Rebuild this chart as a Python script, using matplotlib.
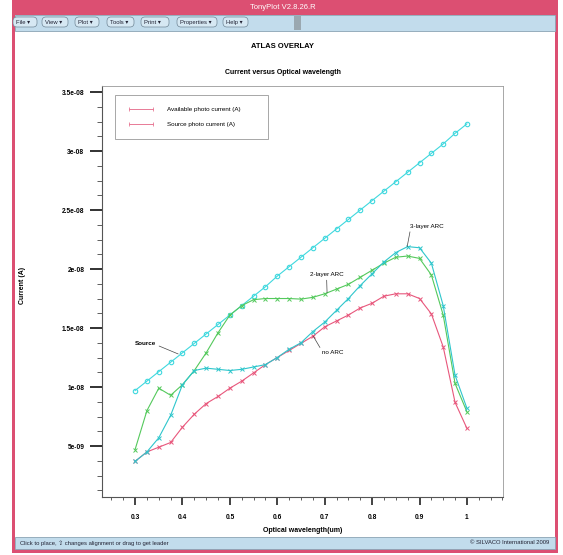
import matplotlib
matplotlib.use("Agg")
import matplotlib.pyplot as plt
from matplotlib.patches import Rectangle, FancyBboxPatch
from matplotlib.lines import Line2D
from matplotlib.ticker import FixedLocator, MultipleLocator

plt.rcParams['font.family'] = ['Liberation Sans Narrow', 'Liberation Sans', 'DejaVu Sans']

# wavelength grid (um) and currents (1e-8 A)
wavelength = [0.3, 0.325, 0.35, 0.375, 0.4, 0.425, 0.45, 0.475, 0.5, 0.525,
              0.55, 0.575, 0.6, 0.625, 0.65, 0.675, 0.7, 0.725, 0.75, 0.775,
              0.8, 0.825, 0.85, 0.875, 0.9, 0.925, 0.95, 0.975, 1.0]
source = [0.97, 1.05, 1.13, 1.21, 1.29, 1.37, 1.45, 1.53, 1.61, 1.69,
          1.77, 1.85, 1.94, 2.02, 2.10, 2.18, 2.26, 2.34, 2.42, 2.50,
          2.58, 2.66, 2.74, 2.82, 2.90, 2.98, 3.06, 3.15, 3.23]
no_arc = [0.37, 0.45, 0.49, 0.53, 0.66, 0.77, 0.86, 0.92, 0.99, 1.05,
          1.12, 1.19, 1.25, 1.31, 1.37, 1.43, 1.51, 1.56, 1.61, 1.67,
          1.71, 1.77, 1.79, 1.79, 1.75, 1.62, 1.34, 0.87, 0.65]
two_layer = [0.47, 0.80, 0.99, 0.93, 1.02, 1.14, 1.29, 1.46, 1.61, 1.69,
             1.74, 1.75, 1.75, 1.75, 1.745, 1.76, 1.79, 1.83, 1.87, 1.93,
             1.99, 2.05, 2.10, 2.11, 2.09, 1.95, 1.61, 1.03, 0.79]
three_layer = [0.37, 0.45, 0.57, 0.76, 1.02, 1.14, 1.16, 1.15, 1.14, 1.15,
               1.17, 1.19, 1.25, 1.32, 1.375, 1.47, 1.55, 1.65, 1.75, 1.86,
               1.96, 2.06, 2.14, 2.19, 2.18, 2.05, 1.69, 1.10, 0.82]
scale = 1e-8

ytick_vals = [0.5e-8, 1.0e-8, 1.5e-8, 2.0e-8, 2.5e-8, 3.0e-8, 3.5e-8]
ytick_labels = ['5e-09', '1e-08', '1.5e-08', '2e-08', '2.5e-08', '3e-08', '3.5e-08']
xtick_vals = [0.3, 0.4, 0.5, 0.6, 0.7, 0.8, 0.9, 1.0]
xtick_labels = ['0.3', '0.4', '0.5', '0.6', '0.7', '0.8', '0.9', '1']
menu_items = ['File', 'View', 'Plot', 'Tools', 'Print', 'Properties', 'Help']

W, H = 563, 555
fig = plt.figure(figsize=(W / 100, H / 100), dpi=100)
fig.patch.set_facecolor('white')

# window frame drawn in pixel coordinates
bg = fig.add_axes([0, 0, 1, 1])
bg.set_xlim(0, W)
bg.set_ylim(H, 0)
bg.axis('off')
pink = '#dc4f72'
blue = '#c2dcec'
bg.add_patch(Rectangle((12, 0), 546, 553, facecolor=pink, edgecolor='none'))
bg.add_patch(Rectangle((15, 15), 540, 534, facecolor='white', edgecolor='none'))
bg.add_patch(Rectangle((15, 15), 540, 16, facecolor=blue, edgecolor='#8aa4b4', lw=0.6))
bg.add_patch(Rectangle((15, 537), 540, 12, facecolor=blue, edgecolor='#8aa4b4', lw=0.6))
bg.add_patch(Rectangle((294, 16), 7, 14, facecolor='#9aa8b0', edgecolor='none'))
bg.text(283, 7.5, 'TonyPlot V2.8.26.R', color='white', fontsize=5.5,
        ha='center', va='center')
menu_x = [12, 41, 74, 106, 140, 176, 222]
menu_w = [26, 28, 26, 29, 30, 42, 27]
for mx, mw, name in zip(menu_x, menu_w, menu_items):
    bg.add_patch(FancyBboxPatch((mx + 2, 18), mw - 4, 8,
                                boxstyle='round,pad=1,rounding_size=4',
                                facecolor='#d6e8f3', edgecolor='#6f8696', lw=0.5))
    bg.text(mx + 4, 22.5, name + ' \u25be', fontsize=4.2, color='#223',
            ha='left', va='center')
bg.text(20, 543, 'Click to place, \u21e7 changes alignment or drag to get leader',
        fontsize=4.2, color='#223', ha='left', va='center')
bg.text(549, 543, '\u00a9 SILVACO International 2009', fontsize=4.2,
        color='#223', ha='right', va='center')

fig.text(283 / W, 1 - 47 / H, 'ATLAS OVERLAY', fontsize=5.5, fontweight='bold',
         ha='center', va='center')
fig.text(283 / W, 1 - 73 / H, 'Current versus Optical wavelength', fontsize=5,
         fontweight='bold', ha='center', va='center')
fig.text(23 / W, 1 - 285 / H, 'Current (A)', fontsize=5, fontweight='bold',
         rotation=90, ha='center', va='center')
fig.text(303 / W, 1 - 531 / H, 'Optical wavelength(um)', fontsize=5,
         fontweight='bold', ha='center', va='center')

ax = fig.add_axes([101.7 / W, 1 - 497 / H, 401 / W, 411 / H])
ax.set_facecolor('white')

c_src = '#3fd8de'
c_three = '#2ec6cc'
c_two = '#54c95c'
c_none = '#e8577c'

x = wavelength
ax.plot(x, [v * scale for v in source], color=c_src, lw=0.8, marker='o',
        ms=3.2, mfc='none', mew=0.8)
ax.plot(x, [v * scale for v in two_layer], color=c_two, lw=0.8, marker='x',
        ms=3.2, mew=0.7)
ax.plot(x, [v * scale for v in no_arc], color=c_none, lw=0.8, marker='x',
        ms=3.2, mew=0.7)
ax.plot(x, [v * scale for v in three_layer], color=c_three, lw=0.8, marker='x',
        ms=3.2, mew=0.7)

ax.set_xlim(0.2296, 1.0755)
ax.set_ylim(0.068e-8, 3.551e-8)

ax.xaxis.set_major_locator(FixedLocator(xtick_vals))
ax.xaxis.set_minor_locator(MultipleLocator(0.025))
ax.set_xticklabels(xtick_labels)
ax.yaxis.set_major_locator(FixedLocator(ytick_vals))
ax.yaxis.set_minor_locator(MultipleLocator(0.125e-8))
ax.set_yticklabels(ytick_labels)
ax.tick_params(axis='x', which='major', direction='out', length=5.5, width=1.2,
               color='#222', labelsize=4.8, pad=7)
ax.tick_params(axis='x', which='minor', direction='out', length=2.5, width=0.6,
               color='#444')
ax.tick_params(axis='y', which='major', direction='out', length=8.5, width=1.3,
               color='#222', labelsize=4.8, pad=4)
ax.tick_params(axis='y', which='minor', direction='out', length=3.6, width=0.6,
               color='#444')
for lab in ax.get_xticklabels() + ax.get_yticklabels():
    lab.set_fontweight('bold')
for side in ('left', 'bottom'):
    ax.spines[side].set_color('#555')
    ax.spines[side].set_linewidth(0.8)
for side in ('top', 'right'):
    ax.spines[side].set_color('#999')
    ax.spines[side].set_linewidth(0.6)

handles = [Line2D([], [], color='#e87a96', lw=0.7, marker='|', ms=2.5, mew=0.6),
           Line2D([], [], color='#e87a96', lw=0.7, marker='|', ms=2.5, mew=0.6)]
leg = ax.legend(handles, ['Available photo current (A)', 'Source photo current (A)'],
                loc='upper left', bbox_to_anchor=(0.033, 0.864, 0.382, 0.114),
                mode='expand', fontsize=4.5, numpoints=2, handlelength=4.5,
                handletextpad=2.0, borderpad=1.9, labelspacing=1.5,
                fancybox=False, framealpha=1, borderaxespad=0)
leg.get_frame().set_edgecolor('#999')
leg.get_frame().set_linewidth(0.6)

leader = dict(arrowstyle='-', color='#444', lw=0.5, shrinkA=0, shrinkB=0)
ax.annotate('Source', xy=(0.391, 1.28e-8), xytext=(0.30, 1.37e-8),
            fontsize=4.5, fontweight='bold', ha='left', va='center',
            arrowprops=dict(leader, relpos=(1, 0.2)))
ax.annotate('2-layer ARC', xy=(0.705, 1.80e-8), xytext=(0.704, 1.95e-8),
            fontsize=4.5, ha='center', va='center',
            arrowprops=dict(leader, relpos=(0.5, 0)))
ax.annotate('3-layer ARC', xy=(0.874, 2.19e-8), xytext=(0.881, 2.36e-8),
            fontsize=4.5, ha='left', va='center',
            arrowprops=dict(leader, relpos=(0, 0)))
ax.annotate('no ARC', xy=(0.676, 1.43e-8), xytext=(0.716, 1.29e-8),
            fontsize=4.5, ha='center', va='center',
            arrowprops=dict(leader, relpos=(0, 1)))

fig.savefig('out.png', dpi=100)
